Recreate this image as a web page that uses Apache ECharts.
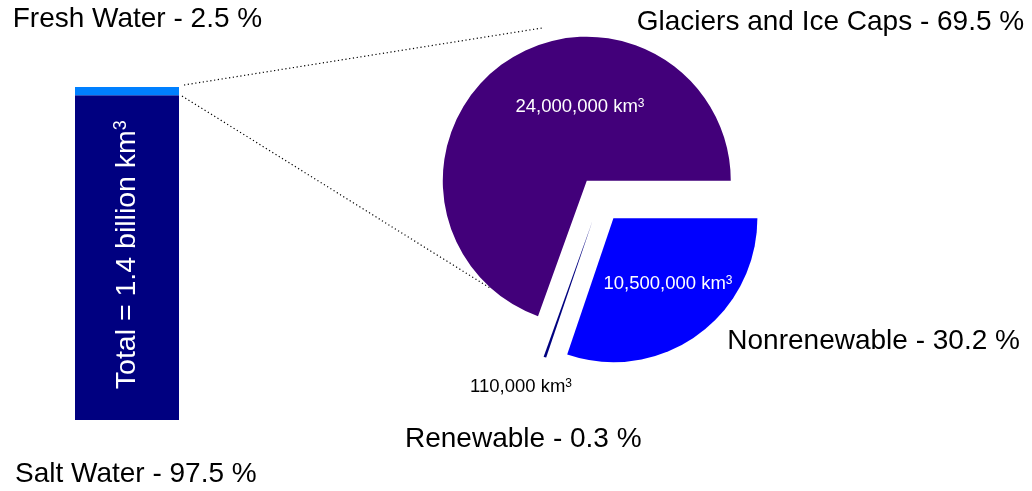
<!DOCTYPE html>
<html><head><meta charset="utf-8">
<script src="https://cdn.jsdelivr.net/npm/echarts@6/dist/echarts.min.js"></script>
<style>html,body{margin:0;padding:0;background:#fff}#c{width:1032px;height:491px}</style>
</head><body><div id="c"></div>
<script>
// ---- data ----
const waterTypes = ['Salt Water', 'Fresh Water'];
const waterShares = [97.5, 2.5];
const totalText = 'Total = 1.4 billion km';
const freshTypes = ['Nonrenewable', 'Renewable', 'Glaciers and Ice Caps'];
const freshShares = [30.2, 0.3, 69.5];
const freshVolumes = ['10,500,000', '110,000', '24,000,000'];

// ---- styles / layout ----
const FONT = "'Liberation Sans', Arial, sans-serif";
const barColors = ['#000080', '#0080ff'];
const pieColors = ['#0000ff', '#000080', '#42007a'];
const volLabelPos = [[668, 284], [521, 387], [580, 107]];
const volLabelColor = ['#fff', '#000', '#fff'];
const catLabelPos = {
  'Salt Water': [15, 474.7],
  'Fresh Water': [12.7, 19.2],
  'Nonrenewable': [727.3, 341.7],
  'Renewable': [405, 439.2],
  'Glaciers and Ice Caps': [636.7, 22.5]
};

const chart = echarts.init(document.getElementById('c'), null, {renderer: 'canvas'});

const graphics = [];
function catText(label, pct) {
  const p = catLabelPos[label];
  graphics.push({type: 'text', x: p[0], y: p[1], silent: true,
    style: {text: label + ' - ' + pct + ' %', font: '28px ' + FONT, fill: '#000', align: 'left', verticalAlign: 'middle'}});
}
waterTypes.forEach((n, i) => catText(n, waterShares[i]));
freshTypes.forEach((n, i) => catText(n, freshShares[i]));
freshTypes.forEach((n, i) => {
  const p = volLabelPos[i];
  const c = volLabelColor[i];
  graphics.push({type: 'text', x: p[0], y: p[1], silent: true, z: 100,
    style: {
      text: '{v|' + freshVolumes[i] + ' km}{s|3}', align: 'center', verticalAlign: 'middle',
      rich: {
        v: {fontSize: 18.5, fontFamily: FONT, fill: c},
        s: {fontSize: 12, fontFamily: FONT, fill: c, verticalAlign: 'top', lineHeight: 8}
      }
    }});
});
// dotted connectors (annotation)
graphics.push({type: 'line', silent: true, shape: {x1: 184, y1: 85, x2: 542, y2: 28},
  style: {stroke: '#000', lineWidth: 1.2, lineDash: [1.2, 2.6]}});
graphics.push({type: 'line', silent: true, shape: {x1: 182, y1: 96, x2: 490, y2: 288},
  style: {stroke: '#000', lineWidth: 1.2, lineDash: [1.2, 2.6]}});

const option = {
  animation: false,
  textStyle: {fontFamily: FONT},
  grid: {left: 75, top: 87, width: 104, height: 333},
  xAxis: {type: 'category', data: ['Water'], show: false},
  yAxis: {type: 'value', min: 0, max: 100, show: false},
  graphic: graphics,
  series: [
    {
      type: 'bar', name: waterTypes[0], stack: 'w', data: [waterShares[0]], barWidth: '100%',
      itemStyle: {color: barColors[0]},
      emphasis: {disabled: true},
      label: {
        show: true, position: 'inside', rotate: 90, offset: [3, 0],
        formatter: '{m|' + totalText + '}{s|3}',
        rich: {
          m: {fontSize: 28.5, color: '#fff', fontFamily: FONT},
          s: {fontSize: 18, color: '#fff', fontFamily: FONT, verticalAlign: 'top', lineHeight: 12}
        }
      }
    },
    {
      type: 'bar', name: waterTypes[1], stack: 'w', data: [waterShares[1]], barWidth: '100%',
      itemStyle: {color: barColors[1]},
      emphasis: {disabled: true}
    },
    {
      type: 'pie', center: [600, 199.5], radius: [0, 144], startAngle: 0, clockwise: true,
      selectedMode: 'multiple', selectedOffset: 23,
      emphasis: {disabled: true},
      itemStyle: {borderWidth: 0},
      data: freshTypes.map((n, i) => ({
        name: n, value: freshShares[i], selected: true,
        itemStyle: {color: pieColors[i], borderWidth: 0}
      })),
      label: {show: false},
      labelLine: {show: false}
    }
  ]
};
chart.setOption(option);
</script>
</body></html>
